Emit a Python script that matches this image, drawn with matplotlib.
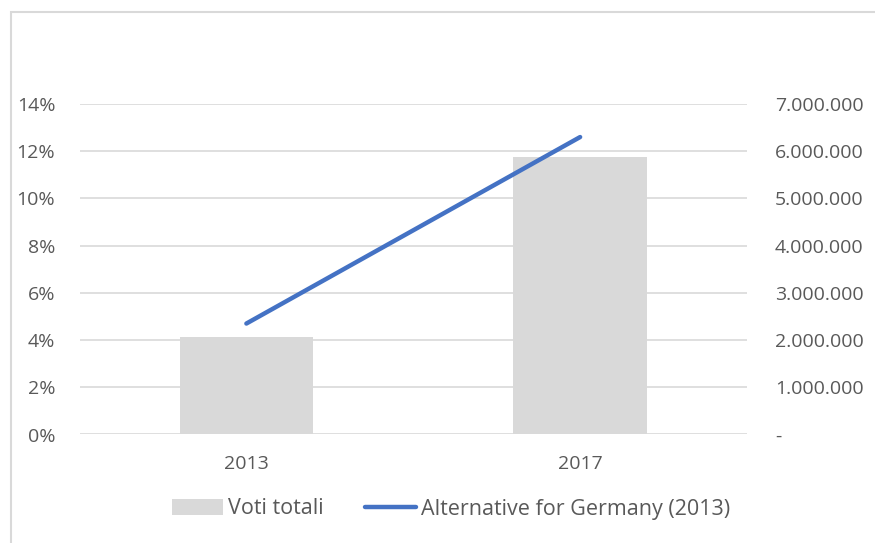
"""
AfD: share of the vote (line, left axis) and total votes (bars, right axis).
"""

import matplotlib
matplotlib.use("Agg")
import matplotlib.pyplot as plt
from matplotlib.patches import Rectangle
from matplotlib.ticker import FuncFormatter

years = ["2013", "2017"]
votes = [2056985, 5878115]          # Voti totali
share = [0.047, 0.126]              # Alternative for Germany (2013)

GRAY_TXT = "#595959"
GRID = "#D9D9D9"
BAR = "#D9D9D9"
BLUE = "#4472C4"

plt.rcParams["font.family"] = ["Open Sans", "DejaVu Sans"]

fig = plt.figure(figsize=(8.75, 5.43), dpi=100)
ax = fig.add_axes([79.5 / 875, 1 - 434.5 / 543, 667.5 / 875, 330.5 / 543])
ax2 = ax.twinx()

x = list(range(len(years)))

# bars go on the secondary axis, line on the primary one
ax2.bar(x, votes, width=0.4, color=BAR, zorder=1, label="Voti totali")
ax2.set_ylim(0, 7000000)
ax2.set_yticks(range(0, 7000001, 1000000))


def votes_fmt(v, pos):
    if v == 0:
        return "-"
    return f"{int(v):,}".replace(",", ".")


ax2.yaxis.set_major_formatter(FuncFormatter(votes_fmt))

ax.set_zorder(ax2.get_zorder() + 1)
ax.patch.set_visible(False)
ax.plot(x, share, color=BLUE, lw=3.2, solid_capstyle="round", zorder=3,
        label="Alternative for Germany (2013)")
ax.set_ylim(0, 0.14)
ax.set_yticks([i / 100 for i in range(0, 15, 2)])
ax.yaxis.set_major_formatter(FuncFormatter(lambda v, p: f"{round(v * 100)}%"))

ax.set_xlim(-0.5, 1.5)
ax.set_xticks(x)
ax.set_xticklabels(years)

# gridlines drawn on the bar axis so they sit behind the bars
ax2.grid(axis="y", color=GRID, lw=1.2, zorder=0)
ax2.set_axisbelow(True)

for a in (ax, ax2):
    for s in a.spines.values():
        s.set_visible(False)
    a.tick_params(length=0, colors=GRAY_TXT, labelsize=14)
ax.tick_params(axis="y", pad=17.5)
ax2.tick_params(axis="y", pad=20)
ax.tick_params(axis="x", pad=15)

h1, l1 = ax2.get_legend_handles_labels()
h2, l2 = ax.get_legend_handles_labels()
fig.legend(h1 + h2, l1 + l2, loc="center", bbox_to_anchor=(451 / 875, 1 - 509 / 543),
           ncol=2, frameon=False, fontsize=15.5, labelcolor=GRAY_TXT,
           handlelength=2.4, handletextpad=0.22, columnspacing=1.9)

# outer chart border
fig.add_artist(Rectangle((11 / 875, -0.01), 1, 1 - 12 / 543 + 0.01,
                         transform=fig.transFigure, fill=False,
                         edgecolor=GRID, lw=1.5))

fig.savefig("out.png", dpi=100)
